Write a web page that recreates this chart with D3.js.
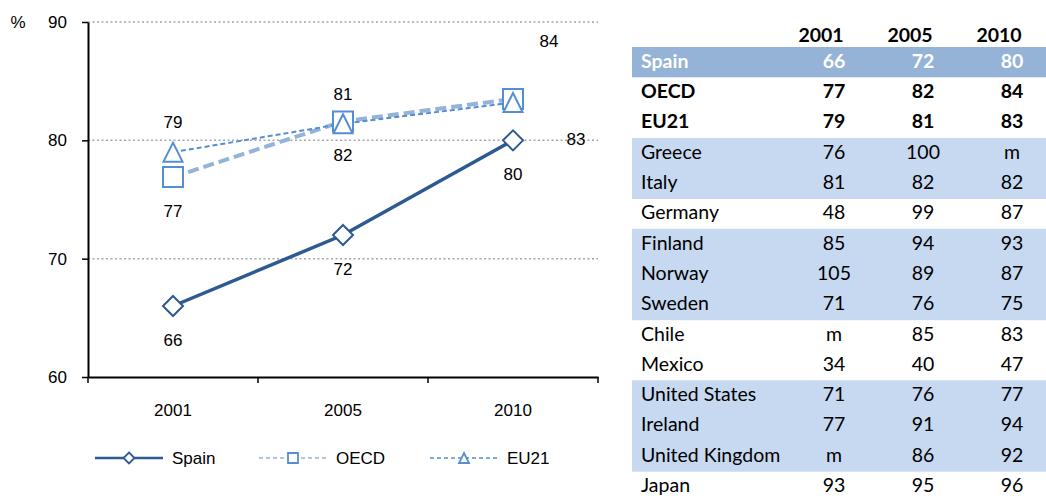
<!DOCTYPE html>
<html><head><meta charset="utf-8">
<script src="https://cdn.jsdelivr.net/npm/d3@7"></script>
<style>body{margin:0;background:#fff}</style>
</head><body><svg id="c" width="1046" height="496"></svg>
<script>
// ---------- chart data ----------
const years = ["2001", "2005", "2010"];
const yTicks = [60, 70, 80, 90];
const spainValues = [66, 72, 80];
const oecdValues = [76.9, 81.6, 83.5];
const eu21Values = [79.0, 81.4, 83.2];
const spainLabels = ["66", "72", "80"];
const oecdLabels = ["77", "82", "84"];
const eu21Labels = ["79", "81", "83"];
const seriesNames = ["Spain", "OECD", "EU21"];

// ---------- table data ----------
const tableHeader = ["2001", "2005", "2010"];
const tableCountries = ["Spain", "OECD", "EU21", "Greece", "Italy", "Germany", "Finland", "Norway", "Sweden", "Chile", "Mexico", "United States", "Ireland", "United Kingdom", "Japan"];
const table2001 = ["66", "77", "79", "76", "81", "48", "85", "105", "71", "m", "34", "71", "77", "m", "93"];
const table2005 = ["72", "82", "81", "100", "82", "99", "94", "89", "76", "85", "40", "76", "91", "86", "95"];
const table2010 = ["80", "84", "83", "m", "82", "87", "93", "87", "75", "83", "47", "77", "94", "92", "96"];

// ---------- styles ----------
const svg = d3.select("#c");
svg.append("rect").attr("width", 1046).attr("height", 496).attr("fill", "#fff");
const FONT = "'Liberation Sans', Arial, sans-serif";
const TFONT = "Lato, 'Open Sans', sans-serif";

const x = d3.scaleBand().domain(years).range([88, 598]);
const y = d3.scaleLinear().domain([60, 90]).range([377, 22]);
const cx = d => x(d) + x.bandwidth() / 2;

// gridlines
svg.append("g").selectAll("line").data(yTicks.filter(t => t > 60)).join("line")
  .attr("x1", x.range()[0]).attr("x2", x.range()[1])
  .attr("y1", d => y(d)).attr("y2", d => y(d))
  .attr("stroke", "#a6a6a6").attr("stroke-width", 1.5).attr("stroke-dasharray", "2,2.5");

// y axis
const ya = svg.append("g").attr("transform", `translate(${x.range()[0]},0)`)
  .call(d3.axisLeft(y).tickValues(yTicks).tickSize(6).tickSizeOuter(0).tickPadding(15));
ya.select(".domain").attr("stroke", "#000").attr("stroke-width", 2);
ya.selectAll(".tick line").attr("stroke", "#000").attr("stroke-width", 1.5);
ya.selectAll("text").attr("font-family", FONT).attr("font-size", 17).attr("fill", "#000");
svg.append("text").text("%").attr("x", 18).attr("y", y(90)).attr("dy", "0.35em")
  .attr("text-anchor", "middle").attr("font-family", FONT).attr("font-size", 17);

// x axis
const xa = svg.append("g").attr("transform", `translate(0,${y(60)})`)
  .call(d3.axisBottom(x).tickSize(0).tickSizeOuter(0).tickPadding(27));
xa.select(".domain").attr("stroke", "#000").attr("stroke-width", 2);
xa.selectAll("text").attr("font-family", FONT).attr("font-size", 17).attr("fill", "#000");
const bounds = years.map(d => x(d)).concat([x.range()[1]]);
svg.append("g").selectAll("line").data(bounds).join("line")
  .attr("x1", d => d).attr("x2", d => d).attr("y1", y(60)).attr("y2", y(60) + 6)
  .attr("stroke", "#000").attr("stroke-width", 1.5);

// marker shapes
function markerPath(type, s) {
  const h = s / 2;
  if (type === "diamond") return `M0,${-h}L${h},0L0,${h}L${-h},0Z`;
  if (type === "square") return `M${-h},${-h}H${h}V${h}H${-h}Z`;
  return `M0,${-h}L${h},${h}L${-h},${h}Z`;
}

const series = [
  { name: seriesNames[0], values: spainValues, labels: spainLabels, line: "#2c5a91", lw: 3.5, dash: null, marker: "diamond", mstroke: "#2c5a91", ms: 20,
    lpos: [{dx: 0, dy: 34}, {dx: 0, dy: 34}, {dx: 0, dy: 34}] },
  { name: seriesNames[1], values: oecdValues, labels: oecdLabels, line: "#95b3d7", lw: 4, dash: "11,5", marker: "square", mstroke: "#558ed5", ms: 20,
    lpos: [{dx: 0, dy: 34}, {dx: 0, dy: 34}, {dx: 36, dy: -58}] },
  { name: seriesNames[2], values: eu21Values, labels: eu21Labels, line: "#558ed5", lw: 2, dash: "5,3", marker: "triangle", mstroke: "#558ed5", ms: 19,
    lpos: [{dx: 0, dy: -30}, {dx: 0, dy: -30}, {dx: 63, dy: 37}] }
];

const line = d3.line().x((d, i) => cx(years[i])).y(d => y(d));
series.forEach(s => {
  svg.append("path").datum(s.values).attr("d", line).attr("fill", "none")
    .attr("stroke", s.line).attr("stroke-width", s.lw)
    .attr("stroke-dasharray", s.dash).attr("stroke-linejoin", "round");
});
series.forEach(s => {
  svg.append("g").selectAll("path").data(s.values).join("path")
    .attr("d", markerPath(s.marker, s.ms))
    .attr("transform", (d, i) => `translate(${cx(years[i])},${y(d)})`)
    .attr("fill", "#fff").attr("stroke", s.mstroke).attr("stroke-width", 2);
});
series.forEach(s => {
  svg.append("g").selectAll("text").data(s.values).join("text")
    .text((d, i) => s.labels[i])
    .attr("x", (d, i) => cx(years[i]) + s.lpos[i].dx)
    .attr("y", (d, i) => y(d) + s.lpos[i].dy)
    .attr("dy", "0.35em").attr("text-anchor", "middle")
    .attr("font-family", FONT).attr("font-size", 17).attr("fill", "#000");
});

// legend
const legX = [95, 259, 430];
series.forEach((s, i) => {
  const g = svg.append("g").attr("transform", `translate(${legX[i]},458)`);
  g.append("line").attr("x1", 0).attr("x2", 68).attr("y1", 0).attr("y2", 0)
    .attr("stroke", s.line).attr("stroke-width", i === 0 ? 2.5 : 1.5)
    .attr("stroke-dasharray", i === 0 ? null : "4,3");
  g.append("path").attr("d", markerPath(s.marker, i === 0 ? 11 : 10))
    .attr("transform", "translate(34,0)").attr("fill", "#fff")
    .attr("stroke", s.mstroke).attr("stroke-width", 1.8);
  g.append("text").text(s.name).attr("x", 77).attr("y", 0).attr("dy", "0.35em")
    .attr("font-family", FONT).attr("font-size", 17).attr("fill", "#000");
});

// ---------- table ----------
const rowTop = 47, rowH = 30.3;
const colCenters = [834, 923, 1012];
const headCenters = [821, 910, 999];
const bandRows = [3, 4, 6, 7, 8, 11, 12, 13];
const t = svg.append("g");
t.selectAll("rect.band").data(bandRows).join("rect")
  .attr("x", 632).attr("width", 414)
  .attr("y", d => rowTop + d * rowH).attr("height", rowH + 0.5)
  .attr("fill", "#c6d9f1");
t.append("rect").attr("x", 632).attr("width", 414).attr("y", rowTop).attr("height", rowH)
  .attr("fill", "#95b3d7");
t.selectAll("text.h").data(tableHeader).join("text")
  .text(d => d).attr("x", (d, i) => headCenters[i]).attr("y", 35).attr("dy", "0.35em")
  .attr("text-anchor", "middle").attr("font-family", TFONT).attr("font-size", 19.5)
  .attr("font-weight", "bold").attr("fill", "#000");
const cols = [table2001, table2005, table2010];
tableCountries.forEach((c, r) => {
  const yy = rowTop + r * rowH + 14;
  const bold = r < 3;
  const color = r === 0 ? "#fff" : "#000";
  t.append("text").text(c).attr("x", 641).attr("y", yy).attr("dy", "0.35em")
    .attr("font-family", TFONT).attr("font-size", 19.5).attr("font-weight", bold ? "bold" : "normal")
    .attr("fill", color);
  cols.forEach((col, j) => {
    t.append("text").text(col[r]).attr("x", colCenters[j]).attr("y", yy).attr("dy", "0.35em")
      .attr("text-anchor", "middle").attr("font-family", TFONT).attr("font-size", 19.5)
      .attr("font-weight", bold ? "bold" : "normal").attr("fill", color);
  });
});
</script></body></html>
